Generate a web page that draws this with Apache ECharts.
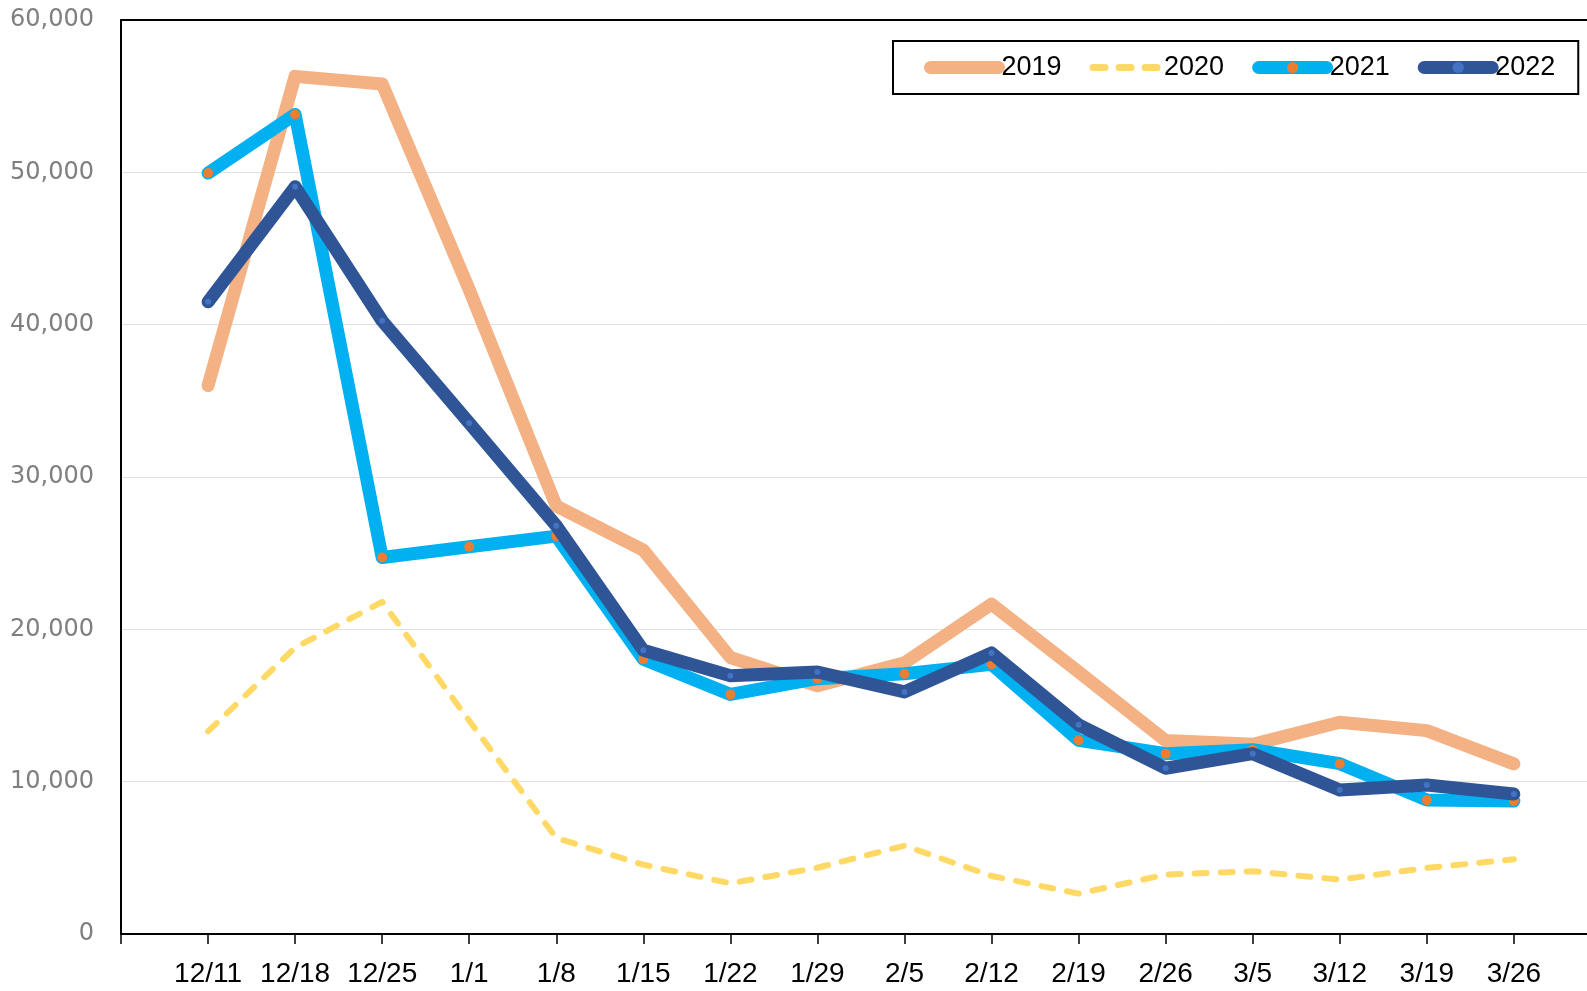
<!DOCTYPE html>
<html>
<head>
<meta charset="utf-8">
<script src="https://cdn.jsdelivr.net/npm/echarts@6/dist/echarts.min.js"></script>
<style>
html,body{margin:0;padding:0;background:#fff;}
#chart{width:1587px;height:991px;}
</style>
</head>
<body>
<div id="chart"></div>
<script>
const categories = ['12/11','12/18','12/25','1/1','1/8','1/15','1/22','1/29','2/5','2/12','2/19','2/26','3/5','3/12','3/19','3/26'];
const s2019 = [36000,56300,55800,42300,28100,25200,18150,16300,17800,21650,17200,12700,12450,13900,13350,11170];
const s2020 = [13300,18800,21800,14000,6300,4550,3330,4350,5800,3810,2650,3900,4120,3570,4340,4900];
const s2021 = [49950,53800,24720,25420,26120,18030,15730,16760,17090,17700,12720,11840,12100,11180,8790,8730];
const s2022 = [41500,49050,40250,33540,26800,18620,16960,17200,15890,18450,13730,10880,11840,9450,9780,9190];
const yTicks = [0,10000,20000,30000,40000,50000,60000];

const pts = arr => arr.map((v,i)=>[i,v]);
const xLabelFont = '"Liberation Sans", Arial, sans-serif';

const chart = echarts.init(document.getElementById('chart'), null, {renderer:'canvas'});
chart.setOption({
  animation:false,
  backgroundColor:'#ffffff',
  grid:{left:121,top:20,right:0,bottom:57,containLabel:false},
  legend:{
    left:893, top:41, orient:'horizontal', width:690,
    padding:[13,23,13,31],
    itemWidth:68, itemHeight:14, itemGap:28,
    borderColor:'#000', borderWidth:2, backgroundColor:'#fff',
    textStyle:{color:'#000', fontSize:27, fontFamily:xLabelFont, padding:[0,0,0,-2]},
    lineStyle:{width:'inherit'},
    data:[
      {name:'2019', itemStyle:{color:'rgba(0,0,0,0)', borderWidth:0}},
      {name:'2020', lineStyle:{width:7}, itemStyle:{color:'rgba(0,0,0,0)', borderWidth:0}},
      {name:'2021'},
      {name:'2022'}
    ]
  },
  xAxis:[{
    type:'value', min:-1, max:15.84, interval:1,
    axisLine:{show:true, onZero:false, lineStyle:{color:'#000', width:2}},
    axisTick:{show:true, inside:false, length:10, lineStyle:{color:'#000', width:1.5}},
    splitLine:{show:false},
    axisLabel:{
      color:'#000', fontSize:28, fontFamily:xLabelFont, margin:26,
      showMaxLabel:false,
      formatter:function(v){ const i=Math.round(v); return (Math.abs(v-i)<1e-6 && categories[i]!==undefined) ? categories[i] : ''; }
    }
  },{
    type:'value', position:'top', min:-1, max:15.84, interval:1,
    axisLine:{show:true, onZero:false, lineStyle:{color:'#000', width:2}},
    axisTick:{show:false}, axisLabel:{show:false}, splitLine:{show:false}
  }],
  yAxis:{
    type:'value', min:yTicks[0], max:yTicks[yTicks.length-1], interval:10000,
    axisLine:{show:true, onZero:false, lineStyle:{color:'#000', width:2}},
    axisTick:{show:false},
    splitLine:{show:true, lineStyle:{color:'#e0e0e0', width:1}},
    axisLabel:{color:'#7f7f7f', fontSize:24, fontFamily:'"DejaVu Sans", sans-serif', margin:27,
      formatter:v=>v.toLocaleString('en-US')}
  },
  series:[
    {name:'2019', type:'line', data:pts(s2019), symbol:'none', z:2,
     itemStyle:{color:'#F4B183'},
     lineStyle:{color:'#F4B183', width:13, cap:'round', join:'round'}},
    {name:'2020', type:'line', data:pts(s2020), symbol:'none', z:3,
     itemStyle:{color:'#FFD966'},
     lineStyle:{color:'#FFD966', width:6, type:[12,14], cap:'round', join:'round'}},
    {name:'2021', type:'line', data:pts(s2021), symbol:'circle', symbolSize:10, showSymbol:true, z:4,
     itemStyle:{color:'#ED7D31', borderWidth:0},
     lineStyle:{color:'#00B0F0', width:13, cap:'round', join:'round'}},
    {name:'2022', type:'line', data:pts(s2022), symbol:'circle', symbolSize:6, showSymbol:true, z:5,
     itemStyle:{color:'#4472C4', borderWidth:0},
     lineStyle:{color:'#2F5597', width:13, cap:'round', join:'round'}}
  ]
});
</script>
</body>
</html>
